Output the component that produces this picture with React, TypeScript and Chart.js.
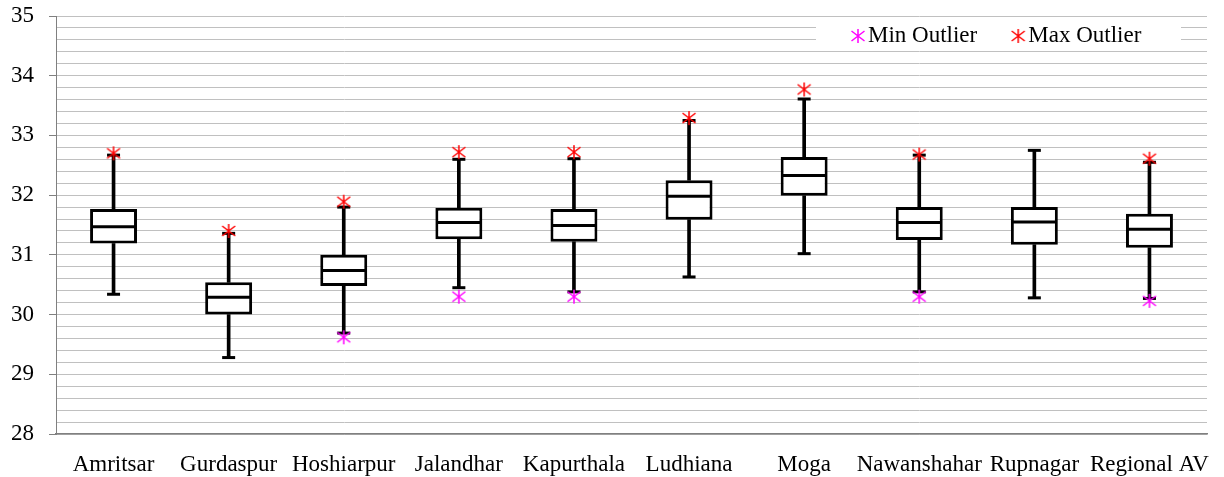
import React, { useEffect, useRef } from "react";
import { Chart, registerables } from "chart.js";

Chart.register(...registerables);

const categories = [
  "Amritsar",
  "Gurdaspur",
  "Hoshiarpur",
  "Jalandhar",
  "Kapurthala",
  "Ludhiana",
  "Moga",
  "Nawanshahar",
  "Rupnagar",
  "Regional AV",
];
const whiskerMin = [30.34, 29.28, 29.69, 30.45, 30.38, 30.63, 31.02, 30.38, 30.28, 30.27];
const q1 = [31.19, 30.0, 30.48, 31.26, 31.22, 31.59, 31.99, 31.25, 31.17, 31.12];
const median = [31.47, 30.29, 30.74, 31.54, 31.49, 31.98, 32.33, 31.54, 31.55, 31.43];
const q3 = [31.77, 30.54, 31.0, 31.79, 31.77, 32.25, 32.64, 31.8, 31.8, 31.69];
const whiskerMax = [32.67, 31.36, 31.8, 32.6, 32.61, 33.25, 33.61, 32.67, 32.75, 32.55];
const minOutlier = [null, null, 29.62, 30.3, 30.3, null, null, 30.3, null, 30.23];
const maxOutlier = [32.7, 31.4, 31.89, 32.72, 32.72, 33.29, 33.77, 32.68, null, 32.61];

const yMin = 28;
const yMax = 35;
const yStep = 0.2;

const FONT = "'Liberation Serif', 'Times New Roman', serif";
const FONT_SIZE = 23;

function makeAsterisk(color: string): HTMLCanvasElement {
  const c = document.createElement("canvas");
  c.width = 16;
  c.height = 16;
  const g = c.getContext("2d")!;
  g.strokeStyle = color;
  g.lineWidth = 1.5;
  g.beginPath();
  g.moveTo(8, 1);
  g.lineTo(8, 15);
  g.moveTo(1.5, 3);
  g.lineTo(14.5, 13);
  g.moveTo(1.5, 13);
  g.lineTo(14.5, 3);
  g.stroke();
  return c;
}

const legendPlugin = {
  id: "outlierLegend",
  afterDatasetsDraw(chart: any) {
    const ctx = chart.ctx;
    const area = chart.chartArea;
    const items = chart.data.datasets.filter((d: any) => d.inLegend);
    const left = area.right - 391;
    const top = area.top + 4;
    ctx.save();
    ctx.fillStyle = "#ffffff";
    ctx.fillRect(left, top, 365, 29);
    ctx.font = `${FONT_SIZE}px ${FONT}`;
    ctx.fillStyle = "#000000";
    ctx.textBaseline = "middle";
    ctx.textAlign = "left";
    let x = left + 42;
    const cy = top + 16;
    for (const d of items) {
      const img = d.pointStyle as HTMLCanvasElement;
      ctx.drawImage(img, x - img.width / 2, cy - img.height / 2);
      ctx.fillText(d.label, x + 10, cy);
      x += 10 + ctx.measureText(d.label).width + 41;
    }
    ctx.restore();
  },
};

export default function App() {
  const ref = useRef<HTMLCanvasElement | null>(null);

  useEffect(() => {
    document.body.style.margin = "0";
    const canvas = ref.current;
    if (!canvas) return;
    const minStar = makeAsterisk("#ff00ff");
    const maxStar = makeAsterisk("#ff0000");
    const isInt = (v: number) => Math.abs(v - Math.round(v)) < 1e-6;

    const pointDs = (label: string, data: (number | null)[], style: any, extra: any = {}) => ({
      type: "line" as const,
      label,
      data,
      showLine: false,
      pointStyle: style,
      pointRadius: 7,
      pointHoverRadius: 7,
      pointBorderColor: "#000000",
      pointBackgroundColor: "#000000",
      pointBorderWidth: 3,
      borderColor: "#000000",
      backgroundColor: "#000000",
      ...extra,
    });

    const chart = new Chart(canvas, {
      type: "bar",
      data: {
        labels: categories,
        datasets: [
          pointDs("Min Outlier", minOutlier, minStar, { inLegend: true }),
          pointDs("Max Outlier", maxOutlier, maxStar, { inLegend: true }),
          pointDs("Whisker Max", whiskerMax, "line", { pointRadius: 6.5 }),
          pointDs("Whisker Min", whiskerMin, "line", { pointRadius: 6.5 }),
          pointDs("Median", median, "line", { pointRadius: 22 }),
          {
            type: "bar" as const,
            label: "Box",
            data: categories.map((_, i) => [q1[i], q3[i]]),
            backgroundColor: "#ffffff",
            borderColor: "#000000",
            borderWidth: 3,
            borderSkipped: false,
            grouped: false,
            barPercentage: 0.408,
            categoryPercentage: 1,
          },
          {
            type: "bar" as const,
            label: "Upper Whisker",
            data: categories.map((_, i) => [q3[i], whiskerMax[i]]),
            backgroundColor: "#000000",
            borderWidth: 0,
            grouped: false,
            barThickness: 3,
          },
          {
            type: "bar" as const,
            label: "Lower Whisker",
            data: categories.map((_, i) => [whiskerMin[i], q1[i]]),
            backgroundColor: "#000000",
            borderWidth: 0,
            grouped: false,
            barThickness: 3,
          },
        ] as any,
      },
      options: {
        animation: false,
        responsive: false,
        layout: { autoPadding: false, padding: { left: 0, right: 17, top: 16, bottom: 0 } },
        plugins: {
          legend: { display: false },
          tooltip: { enabled: false },
        },
        scales: {
          x: {
            offset: true,
            grid: { display: false, drawTicks: false },
            border: { display: true, color: "#808080", width: 1.5 },
            ticks: {
              autoSkip: false,
              maxRotation: 0,
              minRotation: 0,
              padding: 17,
              color: "#000000",
              font: { family: FONT, size: FONT_SIZE },
            },
            afterFit: (scale: any) => {
              scale.height = 43;
              scale.paddingLeft = 0;
              scale.paddingRight = 0;
            },
          },
          y: {
            min: yMin,
            max: yMax,
            border: { display: true, color: "#808080", width: 1 },
            grid: {
              color: "#c0c0c0",
              lineWidth: 1,
              tickLength: 7,
              tickColor: (c: any) => (c.tick && isInt(c.tick.value) ? "#808080" : "rgba(0,0,0,0)"),
            },
            ticks: {
              stepSize: yStep,
              autoSkip: false,
              padding: 15,
              color: "#000000",
              font: { family: FONT, size: FONT_SIZE },
              callback: (v: any) => (isInt(Number(v)) ? String(Math.round(Number(v))) : ""),
            },
            afterFit: (scale: any) => {
              scale.width = 56;
              scale.paddingTop = 12;
              scale.paddingBottom = 12;
            },
          },
        },
      },
      plugins: [legendPlugin],
    });
    return () => chart.destroy();
  }, []);

  return <canvas ref={ref} width={1224} height={477} />;
}
